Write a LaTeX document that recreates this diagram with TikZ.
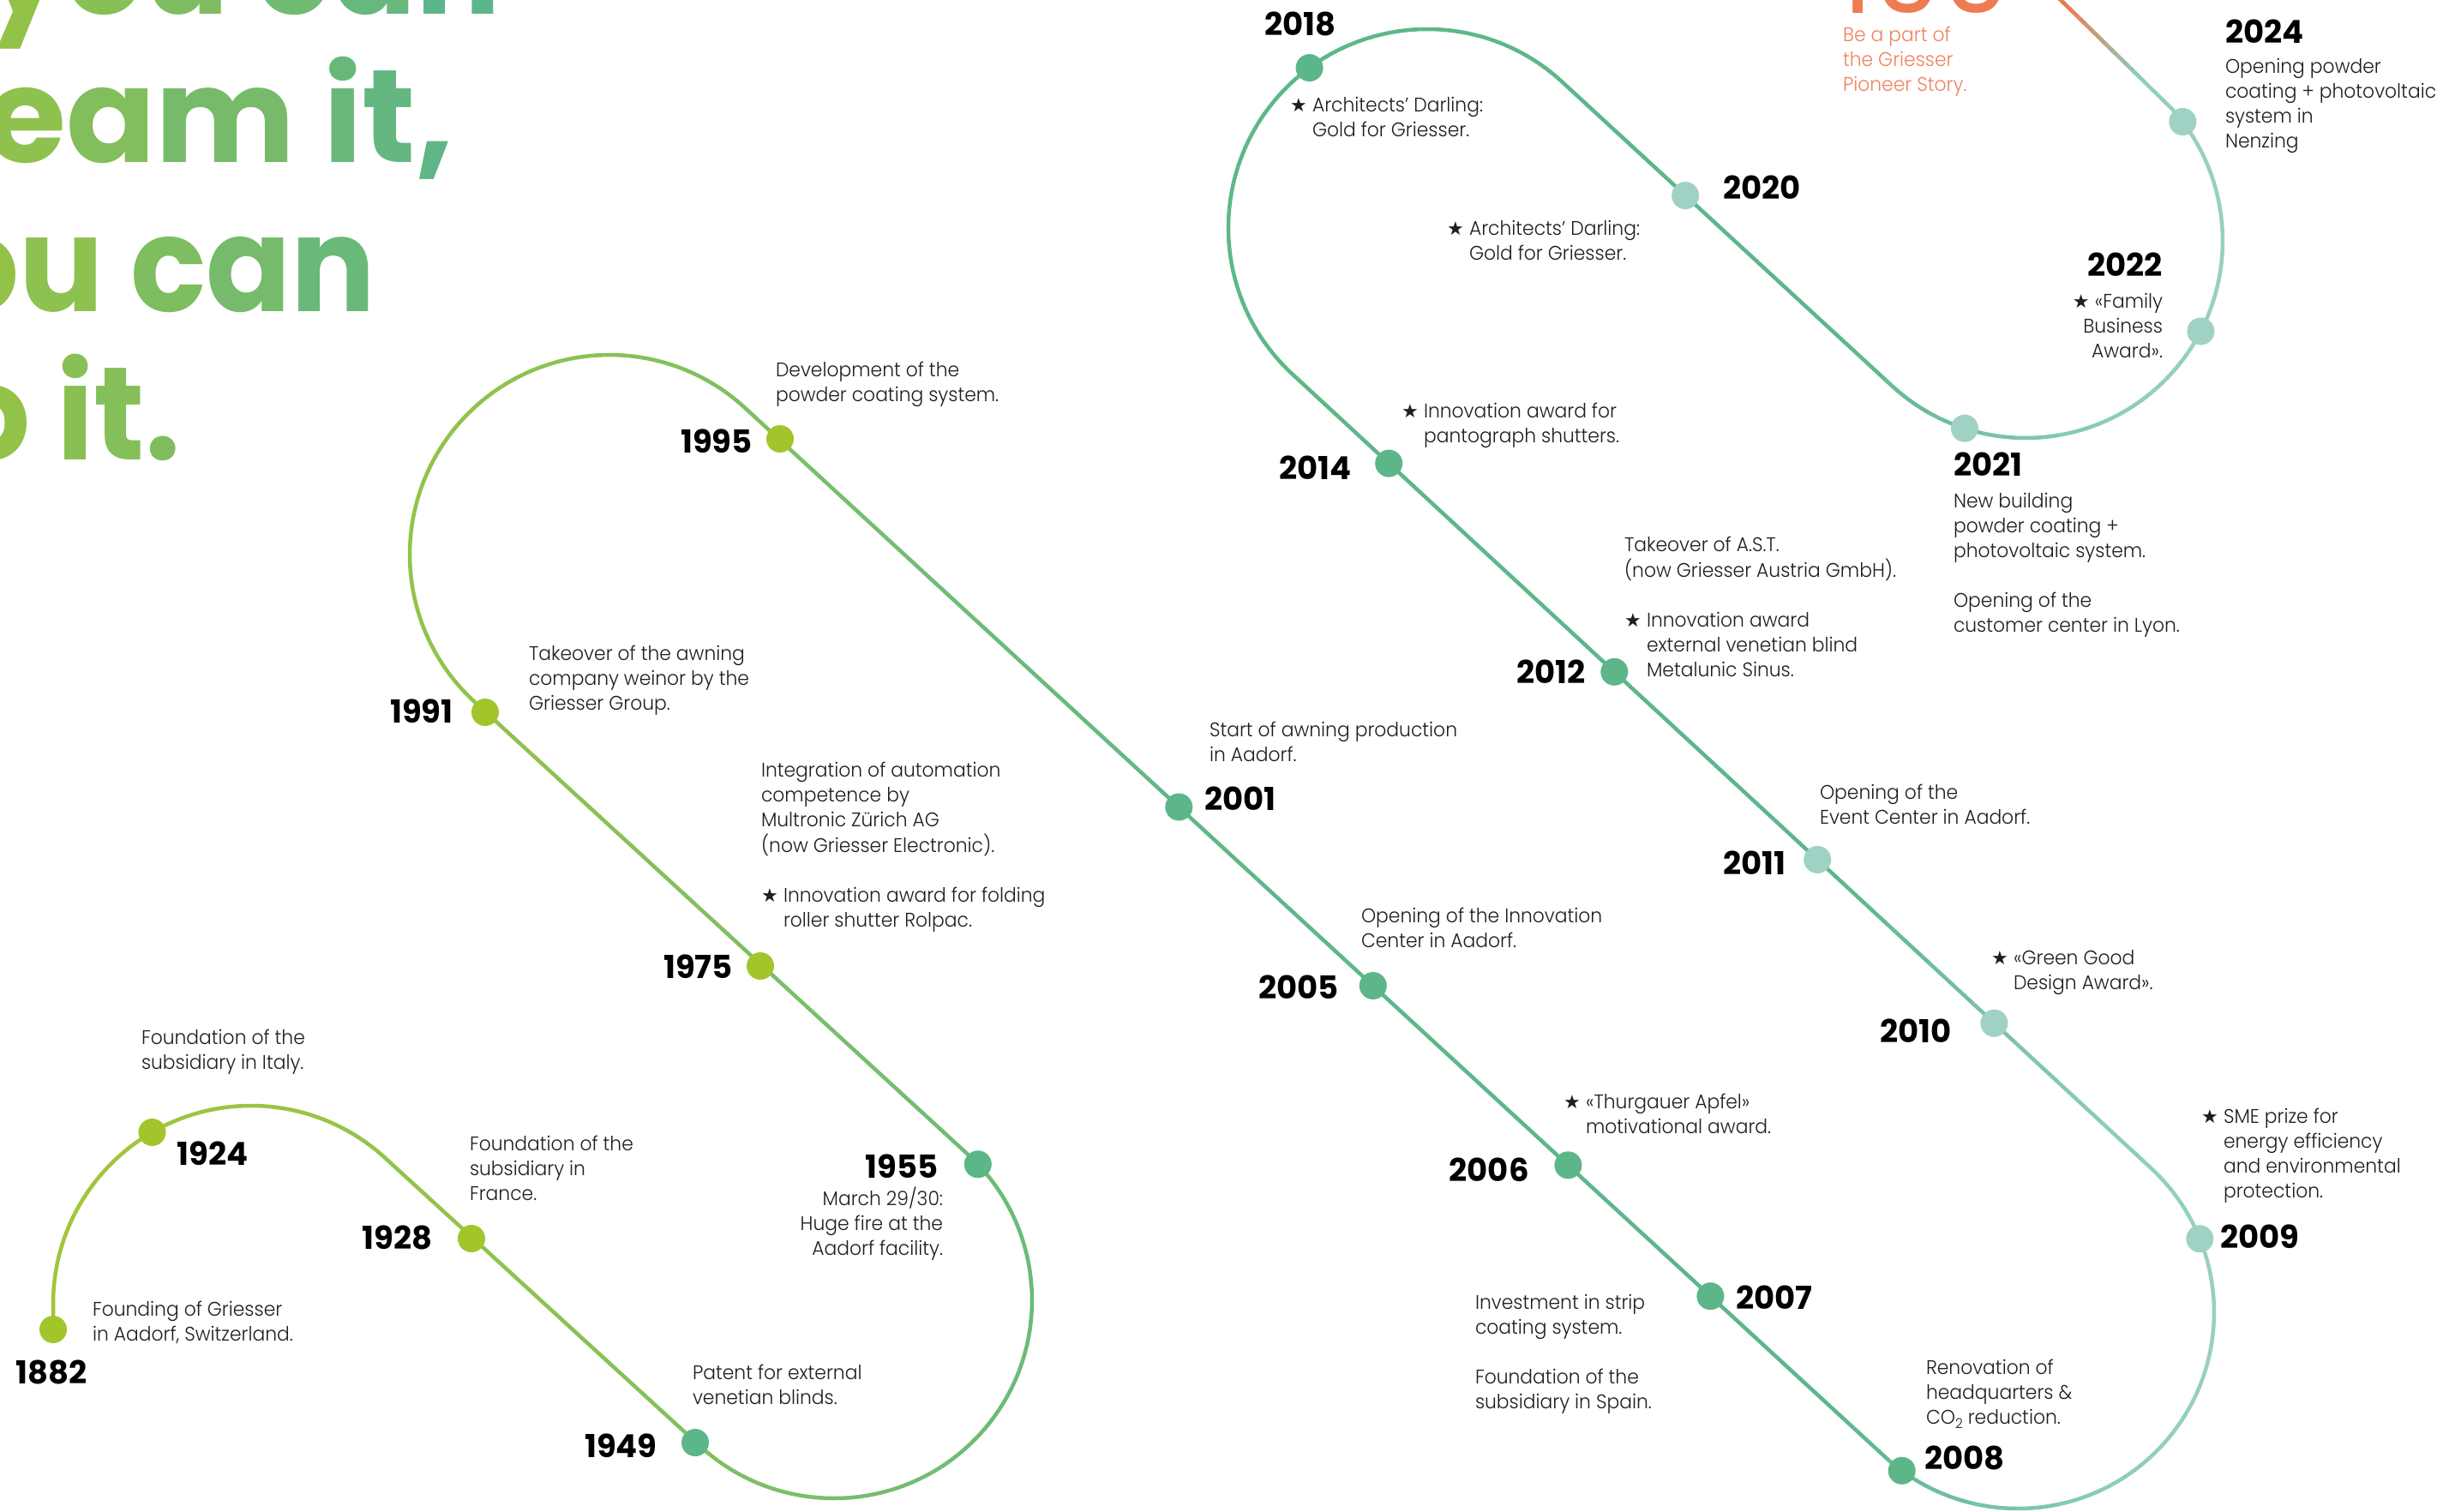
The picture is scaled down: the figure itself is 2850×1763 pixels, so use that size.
\documentclass[tikz,border=0pt]{standalone}
\usepackage{fontspec}
\usetikzlibrary{calc}
\setmainfont{Poppins}
\IfFontExistsTF{Poppins Light}{\newfontfamily\bodyf{Poppins Light}[FakeStretch=0.95]\newcommand\bodysel{\bodyf}}{\newfontfamily\bodyf{Poppins}[FakeStretch=0.95]\newcommand\bodysel{\bodyf}}
\IfFontExistsTF{Poppins Bold}{\newfontfamily\yearf{Poppins Bold}\newcommand\yearsel{\yearf}}{\newfontfamily\yearf{Poppins}\newcommand\yearsel{\yearf\bfseries}}
\IfFontExistsTF{Poppins Bold}{\newfontfamily\headf{Poppins Bold}[FakeStretch=0.95]\newcommand\headsel{\headf}}{\newfontfamily\headf{Poppins}[FakeStretch=0.95]\newcommand\headsel{\headf\bfseries}}
\IfFontExistsTF{Poppins Bold}{\newfontfamily\headw{Poppins Bold}\newcommand\headwsel{\headw}}{\newfontfamily\headw{Poppins}\newcommand\headwsel{\headw\bfseries}}
\newfontfamily\hundf{Poppins}
\newfontfamily\symf{DejaVu Sans}
\definecolor{L0}{HTML}{A4C636}
\definecolor{L1}{HTML}{8FC24E}
\definecolor{L2}{HTML}{76BE6E}
\definecolor{L3}{HTML}{5EB788}
\definecolor{L4}{HTML}{5DB68A}
\definecolor{L5}{HTML}{8BCCB7}
\definecolor{L6}{HTML}{A0D3C6}
\definecolor{TE}{HTML}{8DCDB8}
\definecolor{OR}{HTML}{EF7B52}
\definecolor{OR2}{HTML}{F0825E}
\definecolor{DY}{HTML}{A3C52C}
\definecolor{DG}{HTML}{5CB68A}
\definecolor{DT}{HTML}{9FD2C5}
\definecolor{HA}{HTML}{93C248}
\definecolor{HB}{HTML}{5AB58C}
\definecolor{tx}{HTML}{1E1E1E}
\newcommand\mixseg[5]{\pgfmathtruncatemacro\tpc{(#1-#2)/(#3-#2)*100}\colorlet{lc}{#5!\tpc!#4}}
\newcommand\setlc[1]{%
 \ifdim#1pt<600pt\relax\mixseg{#1}{0}{600}{L0}{L1}%
 \else\ifdim#1pt<1000pt\relax\mixseg{#1}{600}{1000}{L1}{L2}%
 \else\ifdim#1pt<1400pt\relax\mixseg{#1}{1000}{1400}{L2}{L3}%
 \else\ifdim#1pt<2150pt\relax\mixseg{#1}{1400}{2150}{L3}{L4}%
 \else\ifdim#1pt<2450pt\relax\mixseg{#1}{2150}{2450}{L4}{L5}%
 \else\ifdim#1pt<2650pt\relax\mixseg{#1}{2450}{2650}{L5}{L6}%
 \else\colorlet{lc}{L6}\fi\fi\fi\fi\fi\fi}
\newcommand\hc[2]{\textcolor{HB!#1!HA}{#2}}
\newcommand\strbox{\makebox[13pt][l]{\symf\fontsize{11}{11}\selectfont ★}}
\newcommand\ind{\hspace*{13pt}}
\def\tlpath{(62,1551) -- (62,1521)
 arc[start angle=180, end angle=312.5, radius=231]
 -- (816.9,1687.3) arc[start angle=132.5, end angle=-47.46, radius=231]
 -- (553.5,818.7) arc[start angle=132.54, end angle=312.62, radius=233]
 -- (2198.9,1699.5) arc[start angle=132.62, end angle=-47.24, radius=229]
 -- (1507.5,436.3) arc[start angle=132.76, end angle=312.66, radius=232]
 -- (2207.1,450.1) arc[start angle=132.66, end angle=-42, radius=230]
 -- (2400,-4)}
\begin{document}
\begin{tikzpicture}[x=0.5pt,y=-0.5pt,
  tline/.style={line width=2.25pt, line cap=butt, line join=round},
  dot/.style={circle, minimum size=16pt, inner sep=0pt, draw=none},
  txt/.style={font=\bodysel\fontsize{11.5}{14.5}\selectfont, text=tx, inner sep=0pt, outer sep=0pt},
  otxt/.style={font=\bodysel\fontsize{11.5}{14.5}\selectfont, text=OR2, inner sep=0pt, outer sep=0pt},
  yr/.style={font=\yearsel\fontsize{18.5}{20}\selectfont, text=black, inner sep=0pt},
  hd/.style={font=\headsel\fontsize{77}{80}\selectfont, inner sep=0pt, anchor=base east},
  hdw/.style={font=\headwsel\fontsize{77}{80}\selectfont, inner sep=0pt, anchor=base east}]
\path[use as bounding box] (0,0) rectangle (2850,1763);
\clip (0,0) rectangle (2850,1763);
\fill[white] (0,0) rectangle (2850,1763);
% headline
\node[hd] (h1) at (585,16) {\hc{0}{If y}\hc{20}{o}\hc{37}{u} \hc{62}{c}\hc{78}{a}\hc{96}{n}};
\node[hdw] (h2) at (530,189) {\hc{0}{dr}\hc{9}{e}\hc{29}{a}\hc{50}{m} \hc{74}{i}\hc{83}{t}\hc{91}{,}};
\node[hd] (h3) at (439,363) {\hc{0}{yo}\hc{11}{u} \hc{36}{c}\hc{52}{a}\hc{70}{n}};
\node[hd] (h4) at (211,536) {\hc{0}{do} \hc{17}{i}\hc{26}{t}\hc{34}{.}};
% 100
\node[font=\hundf\fontsize{64}{64}\selectfont, text=OR, anchor=base west, inner sep=0pt] (n100) at (2144,15) {100};
\node[otxt,anchor=base west] (tpion) at (2150,48) {\begin{tabular}[t]{@{}l@{}}Be a part of\\the Griesser\\Pioneer Story.\end{tabular}};
% timeline line with horizontal gradient
\foreach \i in {0,...,57}{%
  \pgfmathsetmacro\xa{\i*50}%
  \pgfmathsetmacro\xm{\i*50+25}%
  \setlc{\xm}%
  \begin{scope}
    \clip (\xa,-30) rectangle ++(51,1830);
    \draw[tline, draw=lc] \tlpath;
  \end{scope}
}
\coordinate (tailS) at (2533.9,127.1);
\coordinate (tailE) at (2400,-4);
\foreach \k in {0,...,11}{%
  \pgfmathsetmacro\ta{0.28+0.06*\k}%
  \pgfmathsetmacro\tb{\ta+0.065}%
  \pgfmathtruncatemacro\pc{min(100,max(0,(\ta+0.03-0.3)/0.6*100))}%
  \colorlet{tc}{OR!\pc!TE}%
  \draw[tline, draw=tc] ($(tailS)!\ta!(tailE)$) -- ($(tailS)!\tb!(tailE)$);
}
% dots
\node[dot, fill=DY] (d1882) at (62,1551) {};
\node[dot, fill=DY] (d1924) at (177.5,1321) {};
\node[dot, fill=DY] (d1928) at (550,1445) {};
\node[dot, fill=DG] (d1949) at (811,1683) {};
\node[dot, fill=DG] (d1955) at (1140.8,1358.3) {};
\node[dot, fill=DY] (d1975) at (887,1127) {};
\node[dot, fill=DY] (d1991) at (566,831) {};
\node[dot, fill=DY] (d1995) at (910,512) {};
\node[dot, fill=DG] (d2001) at (1375.3,941.5) {};
\node[dot, fill=DG] (d2005) at (1601.8,1150) {};
\node[dot, fill=DG] (d2006) at (1829.4,1359.3) {};
\node[dot, fill=DG] (d2007) at (1995.4,1512.2) {};
\node[dot, fill=DG] (d2008) at (2218.7,1715.8) {};
\node[dot, fill=DT] (d2009) at (2566.3,1445.2) {};
\node[dot, fill=DT] (d2010) at (2326.4,1193.7) {};
\node[dot, fill=DT] (d2011) at (2120.2,1002.9) {};
\node[dot, fill=DG] (d2012) at (1883.3,783.8) {};
\node[dot, fill=DG] (d2014) at (1620.2,540.6) {};
\node[dot, fill=DG] (d2018) at (1527.6,79.1) {};
\node[dot, fill=DT] (d2020) at (1966.1,228.1) {};
\node[dot, fill=DT] (d2021) at (2291.9,499.7) {};
\node[dot, fill=DT] (d2022) at (2567.4,386.5) {};
\node[dot, fill=DT] (d2024) at (2546.3,142) {};
% years
\node[yr, anchor=base] (y1882) at (60,1614) {1882};
\node[yr, anchor=base west] (y1924) at (206,1359) {1924};
\node[yr, anchor=base east] (y1928) at (505,1457) {1928};
\node[yr, anchor=base east] (y1949) at (767,1700) {1949};
\node[yr, anchor=base east] (y1955) at (1095,1374) {1955};
\node[yr, anchor=base east] (y1975) at (855,1141) {1975};
\node[yr, anchor=base east] (y1991) at (529,843) {1991};
\node[yr, anchor=base east] (y1995) at (878,528) {1995};
\node[yr, anchor=base west] (y2001) at (1405,945) {2001};
\node[yr, anchor=base east] (y2005) at (1562,1165) {2005};
\node[yr, anchor=base east] (y2006) at (1784,1378) {2006};
\node[yr, anchor=base west] (y2007) at (2025,1527) {2007};
\node[yr, anchor=base west] (y2008) at (2245,1714) {2008};
\node[yr, anchor=base west] (y2009) at (2590,1456) {2009};
\node[yr, anchor=base east] (y2010) at (2277,1216) {2010};
\node[yr, anchor=base east] (y2011) at (2084,1020) {2011};
\node[yr, anchor=base east] (y2012) at (1850,797) {2012};
\node[yr, anchor=base east] (y2014) at (1577,559) {2014};
\node[yr, anchor=base west] (y2018) at (1475,41) {2018};
\node[yr, anchor=base west] (y2020) at (2010,232) {2020};
\node[yr, anchor=base west] (y2021) at (2279,555) {2021};
\node[yr, anchor=base east] (y2022) at (2523,322) {2022};
\node[yr, anchor=base west] (y2024) at (2596,50) {2024};
% texts
\node[txt,anchor=base west] (t1882) at (108,1535) {\begin{tabular}[t]{@{}l@{}}Founding of Griesser\\in Aadorf, Switzerland.\end{tabular}};
\node[txt,anchor=base west] (t1924) at (165,1218) {\begin{tabular}[t]{@{}l@{}}Foundation of the\\subsidiary in Italy.\end{tabular}};
\node[txt,anchor=base west] (t1928) at (548,1342) {\begin{tabular}[t]{@{}l@{}}Foundation of the\\subsidiary in\\France.\end{tabular}};
\node[txt,anchor=base west] (t1949) at (808,1609) {\begin{tabular}[t]{@{}l@{}}Patent for external\\venetian blinds.\end{tabular}};
\node[txt,anchor=base east] (t1955) at (1100,1406) {\begin{tabular}[t]{@{}r@{}}March 29/30:\\Huge fire at the\\Aadorf facility.\end{tabular}};
\node[txt,anchor=base west] (t1975) at (888,906) {\begin{tabular}[t]{@{}l@{}}Integration of automation\\competence by\\Multronic Zürich AG\\(now Griesser Electronic).\\ \\\strbox Innovation award for folding\\\ind roller shutter Rolpac.\end{tabular}};
\node[txt,anchor=base west] (t1991) at (617,770) {\begin{tabular}[t]{@{}l@{}}Takeover of the awning\\company weinor by the\\Griesser Group.\end{tabular}};
\node[txt,anchor=base west] (t1995) at (905,439) {\begin{tabular}[t]{@{}l@{}}Development of the\\powder coating system.\end{tabular}};
\node[txt,anchor=base west] (t2001) at (1411,859) {\begin{tabular}[t]{@{}l@{}}Start of awning production\\in Aadorf.\end{tabular}};
\node[txt,anchor=base west] (t2005) at (1588,1076) {\begin{tabular}[t]{@{}l@{}}Opening of the Innovation\\Center in Aadorf.\end{tabular}};
\node[txt,anchor=base west] (t2006) at (1824,1293) {\begin{tabular}[t]{@{}l@{}}\strbox «Thurgauer Apfel»\\\ind motivational award.\end{tabular}};
\node[txt,anchor=base west] (t2007) at (1721,1527) {\begin{tabular}[t]{@{}l@{}}Investment in strip\\coating system.\\ \\Foundation of the\\subsidiary in Spain.\end{tabular}};
\node[txt,anchor=base west] (t2008) at (2247,1603) {\begin{tabular}[t]{@{}l@{}}Renovation of\\headquarters \&\\CO\raisebox{-0.25em}{\fontsize{8}{8}\selectfont 2} reduction.\end{tabular}};
\node[txt,anchor=base west] (t2009) at (2568,1310) {\begin{tabular}[t]{@{}l@{}}\strbox SME prize for\\\ind energy efficiency\\\ind and environmental\\\ind protection.\end{tabular}};
\node[txt,anchor=base west] (t2010) at (2323,1125) {\begin{tabular}[t]{@{}l@{}}\strbox «Green Good\\\ind Design Award».\end{tabular}};
\node[txt,anchor=base west] (t2011) at (2123,932) {\begin{tabular}[t]{@{}l@{}}Opening of the\\Event Center in Aadorf.\end{tabular}};
\node[txt,anchor=base west] (t2012) at (1895,643) {\begin{tabular}[t]{@{}l@{}}Takeover of A.S.T.\\(now Griesser Austria GmbH).\\ \\\strbox Innovation award\\\ind external venetian blind\\\ind Metalunic Sinus.\end{tabular}};
\node[txt,anchor=base west] (t2014) at (1635,487) {\begin{tabular}[t]{@{}l@{}}\strbox Innovation award for\\\ind pantograph shutters.\end{tabular}};
\node[txt,anchor=base west] (t2018) at (1505,130) {\begin{tabular}[t]{@{}l@{}}\strbox Architects’ Darling:\\\ind Gold for Griesser.\end{tabular}};
\node[txt,anchor=base west] (t2020) at (1688,274) {\begin{tabular}[t]{@{}l@{}}\strbox Architects’ Darling:\\\ind Gold for Griesser.\end{tabular}};
\node[txt,anchor=base west] (t2021) at (2279,592) {\begin{tabular}[t]{@{}l@{}}New building\\powder coating +\\photovoltaic system.\\ \\Opening of the\\customer center in Lyon.\end{tabular}};
\node[txt,anchor=base east] (t2022) at (2523,359) {\begin{tabular}[t]{@{}r@{}}\strbox«Family\\Business\\Award».\end{tabular}};
\node[txt,anchor=base west] (t2024) at (2596,85) {\begin{tabular}[t]{@{}l@{}}Opening powder\\coating + photovoltaic\\system in\\Nenzing\end{tabular}};
\end{tikzpicture}
\end{document}
